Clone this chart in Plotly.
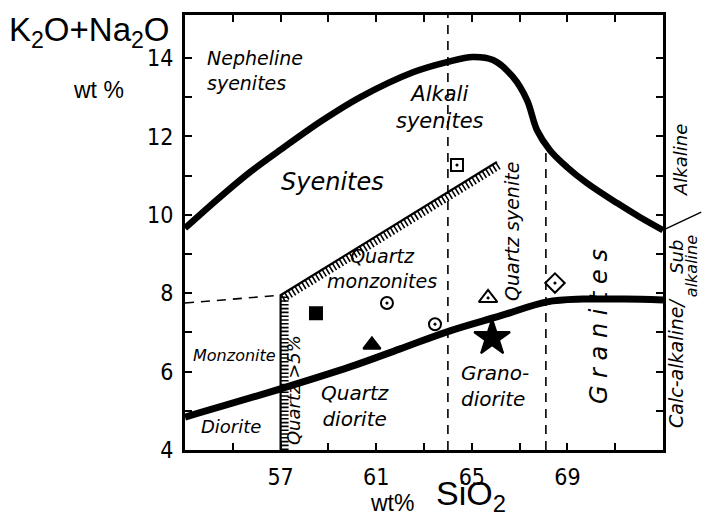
import plotly.graph_objects as go

# ---------------- data (wt%) ----------------
# upper thick boundary (alkaline field)
upper_x = [53.0, 54.46, 55.72, 56.97, 58.77, 60.32, 62.54, 63.96, 65.05, 65.89,
           66.72, 67.31, 67.73, 68.27, 68.98, 69.82, 71.08, 72.04, 73.0]
upper_y = [9.66, 10.45, 11.09, 11.65, 12.42, 13.0, 13.64, 13.9, 14.03, 13.95,
           13.52, 12.93, 12.16, 11.65, 11.22, 10.81, 10.30, 9.94, 9.61]
# lower thick boundary (alkaline / subalkaline)
lower_x = [53.0, 57.1, 59.9, 62.0, 64.09, 66.18, 68.15, 69.65, 71.4, 73.0]
lower_y = [4.84, 5.58, 6.12, 6.58, 7.04, 7.42, 7.78, 7.85, 7.85, 7.83]
# hatched quartz > 5 % boundary
quartz_x = [57.0, 57.0, 66.05]
quartz_y = [4.0, 7.95, 11.35]
# dashed boundaries
dash_h_x = [53.0, 57.0]
dash_h_y = [7.75, 7.95]
dash_v1_x = [64.0, 64.0]
dash_v1_y = [4.0, 15.1]
dash_v2_x = [68.1, 68.1]
dash_v2_y = [4.0, 11.72]
# side divider (alkaline / subalkaline, outside frame)
side_x = [73.0, 74.6]
side_y = [9.61, 10.07]

# samples
samp_x = [64.38, 58.48, 61.45, 63.46, 60.82, 65.68, 65.85, 68.48]
samp_y = [11.27, 7.49, 7.75, 7.21, 6.68, 7.88, 6.86, 8.26]
samp_sym = ["square-open-dot", "square", "circle-open-dot", "circle-open-dot",
            "triangle-up", "triangle-up-open-dot", "star", "diamond-open-dot"]
samp_size = [12, 12, 12, 12, 15, 16, 27, 15]

# field labels
lab_text = ["Nepheline<br>syenites", "Alkali<br>syenites", "Syenites",
            "Quartz<br>monzonites", "Monzonite", "Diorite", "Quartz<br>diorite",
            "Grano-<br>diorite", "Quartz >5%", "Quartz syenite", "G r a n i t e s"]
lab_x = [53.84, 63.67, 59.19, 61.26, 55.05, 54.92, 60.11, 64.46, 57.52, 66.68, 70.32]
lab_y = [13.69, 12.75, 10.84, 8.62, 6.42, 4.59, 5.12, 5.63, 5.53, 9.59, 7.16]
lab_size = [19, 21, 24, 19, 16, 18, 20, 20, 18, 19, 24]
lab_angle = [0, 0, 0, 0, 0, 0, 0, 0, -90, -90, -90]
lab_align = ["left", "center", "center", "center", "center", "center", "center",
             "left", "center", "center", "center"]

# labels outside the right frame (paper coordinates)
side_text = ["Alkaline", "Sub", "alkaline", "Calc-alkaline/"]
side_px = [1.038, 1.028, 1.061, 1.027]
side_py = [0.667, 0.445, 0.423, 0.20]
side_size = [18, 18, 16, 19]

x_ticks = [55, 57, 59, 61, 63, 65, 67, 69, 71]
x_ticklabels = ["", "57", "", "61", "", "65", "", "69", ""]
y_ticks = [4, 5, 6, 7, 8, 9, 10, 11, 12, 13, 14]
y_ticklabels = ["4", "", "6", "", "8", "", "10", "", "12", "", "14"]

X_RANGE = [53, 73]
Y_RANGE = [4, 15.1]
W, H = 702, 517
ML, MR, MT, MB = 185, 39, 15, 67
PW, PH = W - ML - MR, H - MT - MB
PX_X = PW / (X_RANGE[1] - X_RANGE[0])
PX_Y = PH / (Y_RANGE[1] - Y_RANGE[0])

TXT_FONT = "DejaVu Sans, Liberation Sans, sans-serif"
AX_FONT = "Liberation Sans Narrow, DejaVu Sans Condensed, Liberation Sans, sans-serif"

fig = go.Figure()

# thick curves
fig.add_trace(go.Scatter(x=upper_x, y=upper_y, mode="lines", line_shape="spline",
                         line=dict(color="black", width=6.5), hoverinfo="skip"))
fig.add_trace(go.Scatter(x=lower_x, y=lower_y, mode="lines", line_shape="spline",
                         line=dict(color="black", width=7), hoverinfo="skip"))

# dashed lines
for dx, dy in [(dash_h_x, dash_h_y), (dash_v1_x, dash_v1_y), (dash_v2_x, dash_v2_y)]:
    fig.add_trace(go.Scatter(x=dx, y=dy, mode="lines",
                             line=dict(color="black", width=1.6, dash="9px,7px"),
                             hoverinfo="skip"))

# hatched boundary: solid line + comb of short strokes on the quartz side
fig.add_trace(go.Scatter(x=quartz_x, y=quartz_y, mode="lines",
                         line=dict(color="black", width=2.2), hoverinfo="skip"))
off = 4.0  # px
fig.add_trace(go.Scatter(x=[quartz_x[0] + off / PX_X, quartz_x[1] + off / PX_X],
                         y=[quartz_y[0], quartz_y[1]], mode="lines",
                         line=dict(color="black", width=8, dash="1.6px,2.2px"),
                         hoverinfo="skip"))
dxp = (quartz_x[2] - quartz_x[1]) * PX_X
dyp = (quartz_y[2] - quartz_y[1]) * PX_Y
ln = (dxp ** 2 + dyp ** 2) ** 0.5
nx, ny = dyp / ln, -dxp / ln
fig.add_trace(go.Scatter(x=[quartz_x[1] + nx * off / PX_X, quartz_x[2] + nx * off / PX_X],
                         y=[quartz_y[1] + ny * off / PX_Y, quartz_y[2] + ny * off / PX_Y],
                         mode="lines",
                         line=dict(color="black", width=8, dash="1.6px,2.4px"),
                         hoverinfo="skip"))

# samples
fig.add_trace(go.Scatter(x=samp_x, y=samp_y, mode="markers", cliponaxis=False,
                         marker=dict(symbol=samp_sym, size=samp_size, color="black",
                                     opacity=1, line=dict(color="black", width=2)),
                         hoverinfo="skip"))

# field labels
for t, x, y, s, a, al in zip(lab_text, lab_x, lab_y, lab_size, lab_angle, lab_align):
    fig.add_annotation(x=x, y=y, xref="x", yref="y", text="<i>" + t + "</i>",
                       showarrow=False, textangle=a, align=al,
                       xanchor="left" if al == "left" and a == 0 else "center",
                       yanchor="middle",
                       font=dict(family=TXT_FONT, size=s, color="black"))


def px_(x):
    return (x - X_RANGE[0]) / (X_RANGE[1] - X_RANGE[0])


def py_(y):
    return (y - Y_RANGE[0]) / (Y_RANGE[1] - Y_RANGE[0])


# divider outside frame
fig.add_shape(type="line", xref="paper", yref="paper",
              x0=px_(side_x[0]), y0=py_(side_y[0]), x1=px_(side_x[1]), y1=py_(side_y[1]),
              line=dict(color="black", width=1.5))

for t, x, y, s in zip(side_text, side_px, side_py, side_size):
    fig.add_annotation(x=x, y=y, xref="paper", yref="paper", text="<i>" + t + "</i>",
                       showarrow=False, textangle=-90, xanchor="center", yanchor="middle",
                       font=dict(family=TXT_FONT, size=s, color="black"))

# axis titles
fig.add_annotation(x=-0.199, y=0.962, xref="paper", yref="paper",
                   text="K<sub>2</sub>O+Na<sub>2</sub>O", showarrow=False,
                   xanchor="center", yanchor="middle",
                   font=dict(family="Liberation Sans, sans-serif", size=33, color="black"))
fig.add_annotation(x=-0.182, y=0.8276, xref="paper", yref="paper", text="wt %",
                   showarrow=False, xanchor="center", yanchor="middle",
                   font=dict(family="Liberation Sans, sans-serif", size=23, color="black"))
fig.add_annotation(x=0.434, y=-0.122, xref="paper", yref="paper", text="wt%",
                   showarrow=False, xanchor="center", yanchor="middle",
                   font=dict(family="Liberation Sans, sans-serif", size=23, color="black"))
fig.add_annotation(x=0.598, y=-0.104, xref="paper", yref="paper", text="SiO<sub>2</sub>",
                   showarrow=False, xanchor="center", yanchor="middle",
                   font=dict(family="Liberation Sans, sans-serif", size=34, color="black"))

axis_common = dict(showline=True, linewidth=3, linecolor="black", mirror="allticks",
                   ticks="inside", ticklen=7, tickwidth=1.5, tickcolor="black",
                   showgrid=False, zeroline=False,
                   tickfont=dict(family=AX_FONT, size=23, color="black"))

fig.update_xaxes(range=X_RANGE, tickmode="array", tickvals=x_ticks, ticktext=x_ticklabels,
                 ticklabelstandoff=4, **axis_common)
fig.update_yaxes(range=Y_RANGE, tickmode="array", tickvals=y_ticks, ticktext=y_ticklabels,
                 ticklabelstandoff=4, **axis_common)

fig.update_layout(width=W, height=H, margin=dict(l=ML, r=MR, t=MT, b=MB, pad=0),
                  paper_bgcolor="white", plot_bgcolor="white", showlegend=False)

fig.write_html("out.html")
